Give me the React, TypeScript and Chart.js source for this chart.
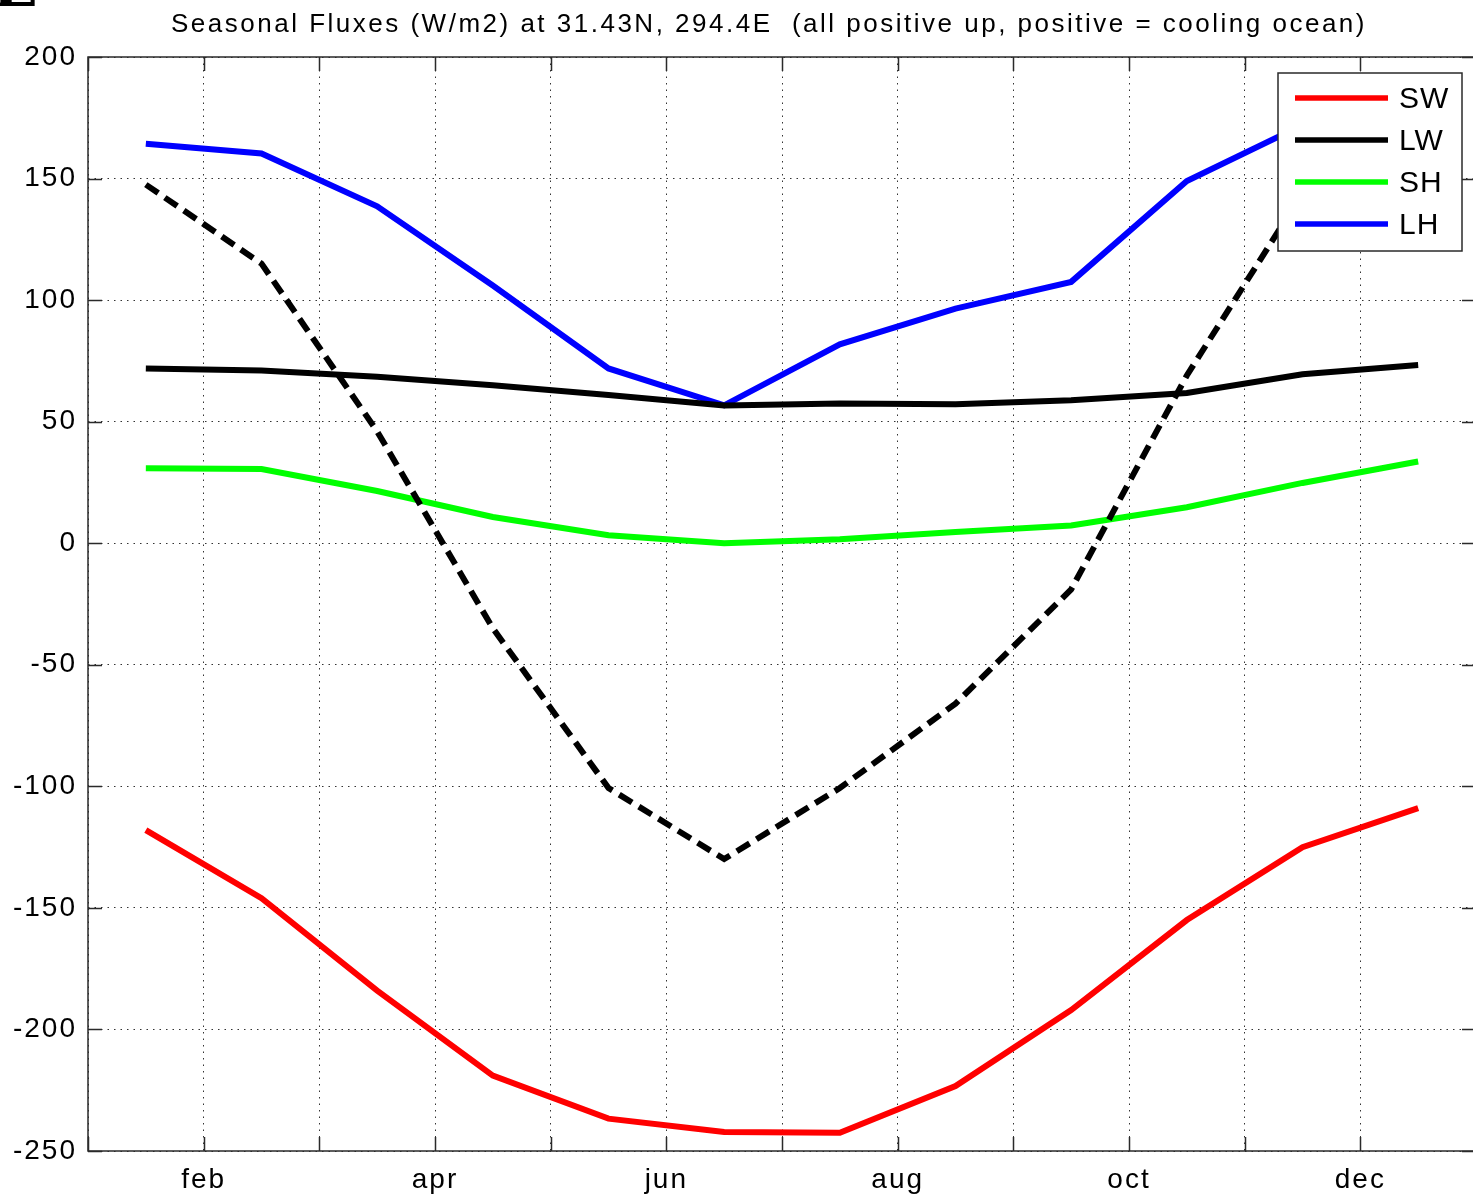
import React, { useEffect, useRef } from "react";
import { Chart, registerables } from "chart.js";

Chart.register(...registerables);

const monthPositions = [1.5, 2.5, 3.5, 4.5, 5.5, 6.5, 7.5, 8.5, 9.5, 10.5, 11.5, 12.5];
const monthTickLabels: Record<number, string> = { 2: "feb", 4: "apr", 6: "jun", 8: "aug", 10: "oct", 12: "dec" };

const swValues = [-118, -146, -184, -219, -236.7, -242.2, -242.5, -223.3, -192, -155, -125, -109];
const lwValues = [71.9, 71, 68.5, 65, 61, 56.7, 57.5, 57.2, 58.8, 61.8, 69.5, 73.3];
const shValues = [30.8, 30.5, 21.5, 10.8, 3.3, 0, 1.6, 4.6, 7.3, 14.8, 24.8, 33.6];
const lhValues = [164.3, 160.3, 138.6, 106, 71.9, 56.7, 81.8, 96.5, 107.5, 149, 172, 168];
const netValues = [147.5, 115, 46, -35, -100.7, -129.9, -100.7, -66, -19, 69, 144, 166];

const titleText = "Seasonal Fluxes (W/m2) at 31.43N, 294.4E  (all positive up, positive = cooling ocean)";
const FONT = "'Liberation Sans', Arial, Helvetica, sans-serif";

const toPoints = (vals: number[]) => vals.map((v, i) => ({ x: monthPositions[i], y: v }));

const spacingPlugin = {
  id: "letterSpacing",
  beforeDraw(chart: any) {
    (chart.ctx as any).letterSpacing = "2px";
  },
};

const framePlugin = {
  id: "matlabFrame",
  afterDraw(chart: any) {
    const ctx = chart.ctx;
    const { left, right, top, bottom } = chart.chartArea;
    const xs = chart.scales.x;
    const ys = chart.scales.y;
    ctx.save();
    // frame
    ctx.strokeStyle = "#2a2a2a";
    ctx.lineWidth = 1.5;
    ctx.setLineDash([]);
    ctx.strokeRect(left, top, right - left, bottom - top);
    // inward ticks
    const tl = 14;
    ctx.beginPath();
    xs.ticks.forEach((t: any) => {
      const px = Math.round(xs.getPixelForValue(t.value)) + 0.5;
      ctx.moveTo(px, bottom);
      ctx.lineTo(px, bottom - tl);
      ctx.moveTo(px, top);
      ctx.lineTo(px, top + tl);
    });
    ys.ticks.forEach((t: any) => {
      const py = Math.round(ys.getPixelForValue(t.value)) + 0.5;
      ctx.moveTo(left, py);
      ctx.lineTo(left + tl, py);
      ctx.moveTo(right, py);
      ctx.lineTo(right - tl, py);
    });
    ctx.stroke();

    // title
    ctx.fillStyle = "#000";
    (ctx as any).letterSpacing = "2.5px";
    ctx.font = `26px ${FONT}`;
    ctx.textAlign = "center";
    ctx.textBaseline = "alphabetic";
    ctx.fillText(titleText, 769, 32);

    // clipped panel letter at corner
    (ctx as any).letterSpacing = "0px";
    ctx.font = `bold 60px 'DejaVu Serif', serif`;
    ctx.textAlign = "left";
    ctx.fillText("E", -8, 6);

    // legend
    const bw = 184;
    const bh = 178;
    const bx = right - 14 - bw;
    const by = top + 16;
    ctx.fillStyle = "#fff";
    ctx.fillRect(bx, by, bw, bh);
    ctx.strokeStyle = "#2a2a2a";
    ctx.lineWidth = 1.5;
    ctx.strokeRect(bx, by, bw, bh);
    const entries = chart.data.datasets.filter((d: any) => d.label);
    (ctx as any).letterSpacing = "1px";
    entries.forEach((d: any, i: number) => {
      const y = by + 25 + i * 42;
      ctx.strokeStyle = d.borderColor;
      ctx.lineWidth = 5.5;
      ctx.setLineDash([]);
      ctx.beginPath();
      ctx.moveTo(bx + 17, y);
      ctx.lineTo(bx + 110, y);
      ctx.stroke();
      ctx.fillStyle = "#000";
      ctx.font = `30px ${FONT}`;
      ctx.textAlign = "left";
      ctx.textBaseline = "middle";
      ctx.fillText(d.label, bx + 121, y + 2);
    });
    ctx.restore();
  },
};

export default function App() {
  const ref = useRef<HTMLCanvasElement | null>(null);
  useEffect(() => {
    document.body.style.margin = "0";
    document.body.style.overflow = "hidden";
    const canvas = ref.current!;
    const lineDs = (label: string, color: string, vals: number[], dash?: number[]) => ({
      label,
      data: toPoints(vals),
      borderColor: color,
      backgroundColor: color,
      borderWidth: 6,
      borderDash: dash || [],
      pointRadius: 0,
      tension: 0,
      fill: false,
      borderJoinStyle: "miter" as const,
    });
    const chart = new Chart(canvas, {
      type: "line",
      data: {
        datasets: [
          lineDs("", "#000000", netValues, [15, 8]),
          lineDs("SW", "#ff0000", swValues),
          lineDs("LW", "#000000", lwValues),
          lineDs("SH", "#00ff00", shValues),
          lineDs("LH", "#0000ff", lhValues),
        ],
      },
      options: {
        responsive: false,
        animation: false,
        devicePixelRatio: 1,
        layout: { padding: { top: 57, right: 14, left: 0, bottom: 0 } },
        plugins: {
          legend: { display: false },
          title: { display: false },
          tooltip: { enabled: false },
        },
        scales: {
          x: {
            type: "linear",
            min: 1,
            max: 13,
            afterFit: (s: any) => {
              s.height = 50;
            },
            ticks: {
              stepSize: 1,
              autoSkip: false,
              maxRotation: 0,
              padding: 12,
              color: "#000",
              font: { family: FONT, size: 28 },
              callback: (v: any) => monthTickLabels[Number(v)] || "",
            },
            grid: { color: "#333", lineWidth: 1, drawTicks: false },
            border: { display: false, dash: [1.5, 5] },
          },
          y: {
            type: "linear",
            min: -250,
            max: 200,
            afterFit: (s: any) => {
              s.width = 88;
            },
            ticks: {
              stepSize: 50,
              padding: 11,
              color: "#000",
              font: { family: FONT, size: 28 },
            },
            grid: { color: "#333", lineWidth: 1, drawTicks: false },
            border: { display: false, dash: [1.5, 5] },
          },
        },
      },
      plugins: [spacingPlugin, framePlugin],
    });
    return () => chart.destroy();
  }, []);
  return (
    <div style={{ position: "fixed", left: 0, top: 0, width: 1473, height: 1201, overflow: "hidden", background: "#fff" }}>
      <canvas ref={ref} width={1490} height={1201} style={{ display: "block" }} />
    </div>
  );
}
